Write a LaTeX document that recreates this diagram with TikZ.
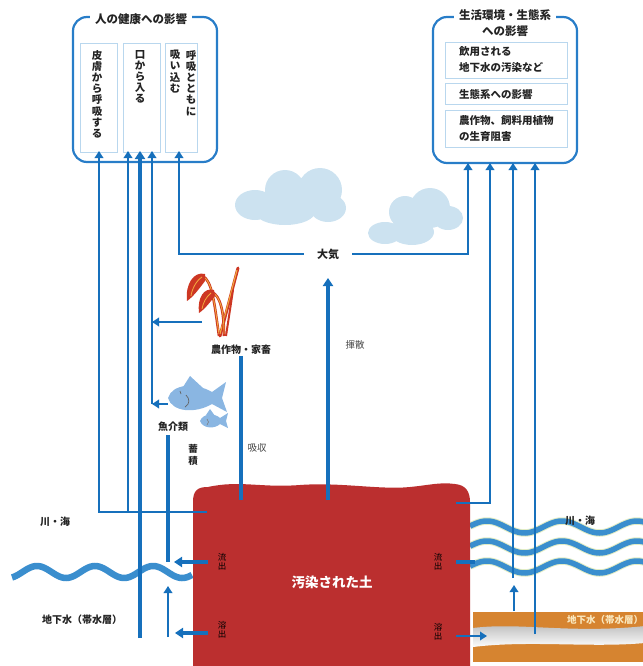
\documentclass[tikz,border=0pt]{standalone}
\usepackage{fontspec}
\setmainfont{Noto Sans CJK JP}
\usetikzlibrary{arrows.meta}

\definecolor{flowc}{RGB}{22,112,188}
\definecolor{framec}{RGB}{40,125,200}
\definecolor{innerc}{RGB}{185,215,238}
\definecolor{soilc}{RGB}{187,47,47}
\definecolor{cloudc}{RGB}{204,226,240}
\definecolor{waterc}{RGB}{58,142,206}
\definecolor{rimc}{RGB}{226,236,196}
\definecolor{fishc}{RGB}{138,182,226}
\definecolor{aquic}{RGB}{214,132,48}
\definecolor{plantred}{RGB}{205,55,35}
\definecolor{plantor}{RGB}{242,170,62}
\definecolor{ink}{RGB}{35,35,35}

\tikzset{
  hbox/.style={draw=framec, line width=2.2pt, rounded corners=14pt},
  sbox/.style={draw=innerc, line width=0.9pt, inner sep=0pt},
  fl/.style={draw=flowc, line width=2pt, -{Triangle[length=7pt,width=8.5pt]}},
  fh/.style={draw=flowc, line width=3.6pt, -{Triangle[length=8pt,width=10pt]}},
  fhl/.style={draw=flowc, line width=3.8pt},
  htitle/.style={font=\bfseries\fontsize{11.5}{16}\selectfont, text=ink, fill=white, inner xsep=5pt, inner ysep=1pt, align=center},
  lbl/.style={font=\bfseries\fontsize{10}{12}\selectfont, text=ink, inner sep=1pt},
  notelbl/.style={font=\fontsize{9.5}{11}\selectfont, text=ink!85, inner sep=1pt},
  vlbl/.style={font=\bfseries\fontsize{10.5}{11.2}\selectfont, text=ink, inner sep=0pt, align=center, anchor=north},
  stag/.style={font=\fontsize{8.5}{9.5}\selectfont, text=black, inner sep=0pt, align=center},
  btxt/.style={font=\bfseries\fontsize{10.5}{16}\selectfont, text=ink, inner sep=0pt, align=left, anchor=west},
  wv/.style={line width=5.5pt, draw=waterc},
  wvrim/.style={line width=7.5pt, draw=rimc},
}

\begin{document}
\begin{tikzpicture}[x=1pt,y=-1pt]
\useasboundingbox (0,0) rectangle (642,666);

% ---------- clouds ----------
\fill[cloudc] (255,205) ellipse [x radius=20, y radius=15]
              (285,190) circle [radius=20]
              (320,190) circle [radius=22]
              (328,208) ellipse [x radius=18, y radius=14]
              (285,212) ellipse [x radius=30, y radius=13];
\fill[cloudc] (385,233) ellipse [x radius=17, y radius=11]
              (405,212) circle [radius=16]
              (430,208) circle [radius=20]
              (448,218) ellipse [x radius=15, y radius=12]
              (412,232) ellipse [x radius=22, y radius=13];

% ---------- water ----------
% left: period 58 (6.2 degrees per unit); right: period 75 (4.8 degrees per unit)
\draw[wv, line width=6.5pt] plot[domain=12:192, samples=90, smooth] (\x,{572-6*cos((\x-37)*6.2)});
\foreach \b in {527,547,567}{
  \draw[wvrim] plot[domain=470:645, samples=90, smooth] (\x,{\b-6*cos((\x-487)*4.8)});
  \draw[wv] plot[domain=470:645, samples=90, smooth] (\x,{\b-6*cos((\x-487)*4.8)});
}

% ---------- aquifer (right) ----------
\fill[aquic] (473,612) rectangle (645,662);
\shade[top color=gray!55, bottom color=white]
  (473,628) .. controls (520,622) and (570,634) .. (645,626)
  -- (645,643) .. controls (590,648) and (530,640) .. (473,647) -- cycle;
\node[font=\bfseries\fontsize{9.5}{11}\selectfont, text={rgb,255:red,250;green,232;blue,190}, anchor=west, inner sep=0pt]
  (aquiR) at (567,620) {地下水（帯水層）};

% ---------- contaminated soil ----------
\fill[soilc] (193,666) -- (193,502) .. controls (193,490) and (198,487) .. (208,487)
  .. controls (240,480) and (260,488) .. (300,485)
  .. controls (340,482) and (380,490) .. (410,487)
  .. controls (430,485) and (440,482) .. (455,484)
  .. controls (466,485) and (470,492) .. (470,502) -- (470,666) -- cycle;
\node[font=\bfseries\fontsize{13.5}{15}\selectfont, text=white] (soil) at (332,582) {汚染された土};
\node[stag] (runL)   at (222,562) {流\\出};
\node[stag] (leachL) at (222,630) {溶\\出};
\node[stag] (runR)   at (438,562) {流\\出};
\node[stag] (leachR) at (438,632) {溶\\出};

% ---------- plant ----------
\draw[plantred, line width=3pt, line cap=round] (220,336) -- (238,268);
\draw[plantor, line width=1.1pt] (220,334) -- (237,270);
\draw[plantred, line width=2.6pt] (219,336) .. controls (214,300) and (212,282) .. (203,276);
\draw[plantor, line width=0.9pt] (219,334) .. controls (214,300) and (212,283) .. (204,277);
\draw[plantred, line width=2.6pt] (224,336) .. controls (224,310) and (220,296) .. (212,292);
\draw[plantor, line width=0.9pt] (224,334) .. controls (224,310) and (220,297) .. (213,293);
\draw[plantred, line width=2pt] (226,336) -- (233,290);
\fill[plantred] (205,274) .. controls (194,271) and (185,284) .. (187,301)
  .. controls (193,297) and (199,289) .. (205,281) -- cycle;
\fill[plantred] (214,290) .. controls (204,287) and (197,298) .. (199,313)
  .. controls (205,309) and (211,301) .. (215,296) -- cycle;
\draw[plantor, line width=0.8pt] (202,277) .. controls (196,281) and (192,289) .. (191,296);
\draw[plantor, line width=0.8pt] (211,293) .. controls (206,297) and (203,303) .. (202,309);

% ---------- fish ----------
\fill[fishc] (168,398) .. controls (172,384) and (195,382) .. (212,392) -- (226,382) -- (222,398)
  -- (227,412) -- (212,404) .. controls (195,414) and (172,412) .. (168,398) -- cycle;
\fill[fishc] (183,387) -- (190,376) -- (203,388) -- cycle;
\draw[ink!70, line width=0.7pt] (180,391) -- (181,394);
\draw[ink!70, line width=0.7pt] (186,395) .. controls (190,399) and (190,404) .. (185,407);
\fill[fishc] (200,421) .. controls (203,413) and (215,413) .. (220,418) -- (228,413) -- (226,421)
  -- (228,428) -- (220,424) .. controls (215,429) and (203,429) .. (200,421) -- cycle;
\fill[fishc] (206,415) -- (210,409) -- (215,416) -- cycle;
\draw[ink!60, line width=0.6pt] (207,419) .. controls (209,421) and (209,423) .. (207,425);

% ---------- health box ----------
\draw[hbox] (73,17) rectangle (217,162);
\node[sbox, minimum width=37, minimum height=109] (skin)   at (98.5,97.5) {};
\node[sbox, minimum width=37, minimum height=109] (mouth)  at (141.5,97.5) {};
\node[sbox, minimum width=32, minimum height=109] (breath) at (181,97.5) {};
\node[htitle] (healthT) at (141,19) {人の健康への影響};
\node[vlbl] (skinT)  at (97,50)  {皮\\膚\\か\\ら\\呼\\吸\\す\\る};
\node[vlbl] (mouthT) at (140,50) {口\\か\\ら\\入\\る};
\node[vlbl] (brT1)   at (191,50) {呼\\吸\\と\\と\\も\\に};
\node[vlbl] (brT2)   at (175,50) {吸\\い\\込\\む};

% ---------- environment box ----------
\draw[hbox] (433,17) rectangle (577,163);
\node[sbox, minimum width=122, minimum height=36] (wellB) at (506,60)    {};
\node[sbox, minimum width=122, minimum height=21] (ecoB)  at (506,93.5)  {};
\node[sbox, minimum width=122, minimum height=37] (cropB) at (506,128.5) {};
\node[htitle] (envT) at (505,23) {生活環境・生態系\\への影響};
\node[btxt] (wellT) at (459,60)  {飲用される\\地下水の汚染など};
\node[btxt] (ecoT)  at (459,94)  {生態系への影響};
\node[btxt] (cropT) at (459,129) {農作物、飼料用植物\\の生育阻害};

% ---------- labels ----------
\node[font=\bfseries\fontsize{11}{12}\selectfont, text=ink, inner xsep=13pt, inner ysep=2pt] (air) at (328,254) {大気};
\node[notelbl] (volT) at (355,345) {揮散};
\node[lbl] (crop) at (241,350) {農作物・家畜};
\node[notelbl] (absT) at (257,448) {吸収};
\node[lbl] (fishT) at (173,427) {魚介類};
\node[lbl, align=center, font=\bfseries\fontsize{9.5}{12}\selectfont] (accT) at (193,455) {蓄\\積};
\node[lbl] (riverLT) at (55,522) {川・海};
\node[lbl] (aquiLT)  at (82,620) {地下水（帯水層）};
\node[lbl] (riverRT) at (580,521) {川・海};

% ---------- connection points ----------
\coordinate (inSkin)   at (99,151);
\coordinate (inMouthA) at (128,151);
\coordinate (inMouthB) at (140,151);
\coordinate (inMouthC) at (152,151);
\coordinate (inBreath) at (179,151);
\coordinate (inR1) at (468,163);
\coordinate (inR2) at (490,163);
\coordinate (inR3) at (513,163);
\coordinate (inR4) at (535,163);
\coordinate (soilSkin) at (207,512);
\coordinate (gwL)      at (140,638);
\coordinate (fishJoin) at (152,404);
\coordinate (fishOut)  at (168,404);
\coordinate (plantOut) at (202,322);
\coordinate (airIn)    at (328,278);
\coordinate (soilVol)  at (328,500);
\coordinate (soilCrop) at (241,500);
\coordinate (stockTop) at (168,435);
\coordinate (riverL)   at (168,562);
\coordinate (soilRunL) at (208,562);
\coordinate (runLEnd)  at (174,562);
\coordinate (soilLchL) at (208,633);
\coordinate (lchLEnd)  at (175,633);
\coordinate (gwUpL)    at (168,637);
\coordinate (rivInL)   at (168,586);
\coordinate (soilR)    at (456,503);
\coordinate (riverR)   at (513,578);
\coordinate (gwUpR)    at (514,611);
\coordinate (rivInR)   at (514,585);
\coordinate (gwR)      at (535,634);
\coordinate (soilRunR) at (456,562);
\coordinate (runREnd)  at (475,562);
\coordinate (soilLchR) at (456,636);
\coordinate (lchREnd)  at (487,636);

% ---------- flows ----------
\draw[fl] (soilSkin) -| (inSkin);
\draw[fl] (inMouthA |- soilSkin) -- (inMouthA);
\draw[fh, line width=3.8pt] (gwL) -- (inMouthB);
\draw[fl] (fishJoin) -- (inMouthC);
\draw[fl] (fishOut) -- (fishJoin);
\draw[fl, line width=2.4pt] (plantOut) -- (inMouthC |- plantOut);
\draw[fl, line width=2.4pt] (air.west) -| (inBreath);
\draw[fl, line width=2.4pt] (air.east) -| (inR1);
\draw[fh] (soilVol) -- (airIn);
\draw[fhl] (crop.south) -- (soilCrop);
\draw[fhl] (stockTop) -- (riverL);
\draw[fh] (soilRunL) -- (runLEnd);
\draw[fh, line width=3.3pt] (soilLchL) -- (lchLEnd);
\draw[fl, line width=2.6pt] (gwUpL) -- (rivInL);
\draw[fl] (soilR) -| (inR2);
\draw[fl] (riverR) -- (inR3);
\draw[fl, line width=2.6pt] (gwUpR) -- (rivInR);
\draw[fl, line width=2.6pt] (gwR) -- (inR4);
\draw[fhl] (soilRunR) -- (runREnd);
\draw[fl] (soilLchR) -- (lchREnd);
\end{tikzpicture}
\end{document}
